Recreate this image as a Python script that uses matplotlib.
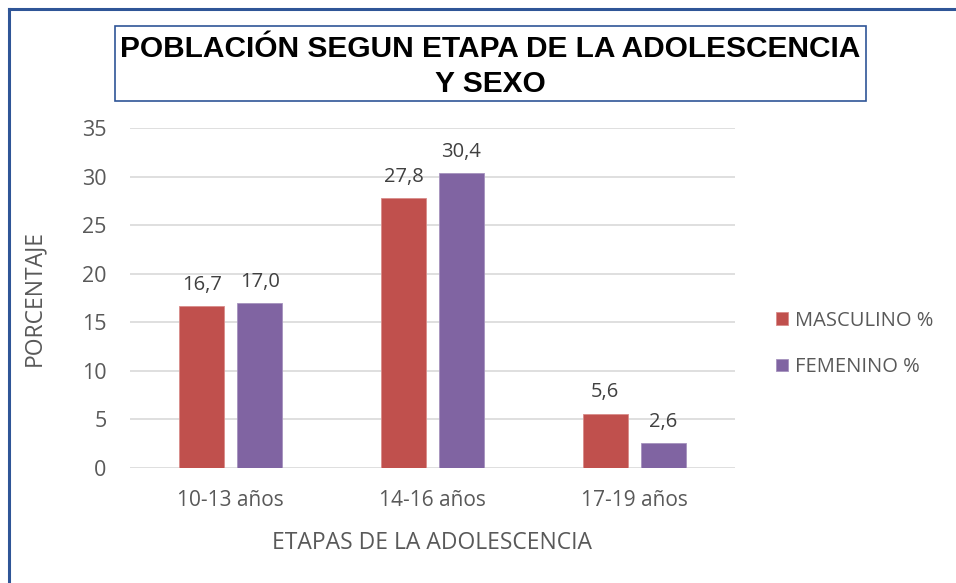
import matplotlib
matplotlib.use("Agg")
import matplotlib.pyplot as plt
from matplotlib.patches import Rectangle
from matplotlib.lines import Line2D

categories = ["10-13 años", "14-16 años", "17-19 años"]
masculino = [16.7, 27.8, 5.6]
femenino = [17.0, 30.4, 2.6]
series_names = ["MASCULINO %", "FEMENINO %"]
yticks = [0, 5, 10, 15, 20, 25, 30, 35]

RED = "#C0504D"
PURPLE = "#8064A2"
TXT = "#595959"
FONT = "Open Sans"

fig = plt.figure(figsize=(9.56, 5.83), dpi=100)
ax = fig.add_axes([130/956, 1-468/583, 605/956, 340/583])

w = 0.223
off = 0.1435
x = list(range(len(categories)))
b1 = ax.bar([i - off for i in x], masculino, w, color=RED, edgecolor="#D98C8A", linewidth=0.6, label=series_names[0], zorder=3)
b2 = ax.bar([i + off for i in x], femenino, w, color=PURPLE, edgecolor="#A592BE", linewidth=0.6, label=series_names[1], zorder=3)

for bars, vals in ((b1, masculino), (b2, femenino)):
    for r, v in zip(bars, vals):
        ax.annotate(f"{v:.1f}".replace(".", ","), (r.get_x() + r.get_width()/2, v),
                    xytext=(0, 8), textcoords="offset points", ha="center", va="bottom",
                    fontsize=14.5, color="#404040", family=FONT)

ax.set_xlim(-0.5, 2.5)
ax.set_ylim(0, 35)
ax.set_yticks(yticks)
ax.set_yticklabels([str(t) for t in yticks], fontsize=15.5, color=TXT, family=FONT)
ax.set_xticks(x)
ax.set_xticklabels(categories, fontsize=15, color=TXT, family=FONT)
ax.tick_params(axis="y", length=0, pad=17)
ax.tick_params(axis="x", length=0, pad=15.5)
ax.yaxis.grid(True, color="#D9D9D9", linewidth=1.2, zorder=0)
ax.set_axisbelow(True)
for s in ax.spines.values():
    s.set_visible(False)
ax.set_xlabel("ETAPAS DE LA ADOLESCENCIA", fontsize=16.5, color=TXT, family=FONT, labelpad=15)
ax.set_ylabel("PORCENTAJE", fontsize=16.5, color=TXT, family=FONT, labelpad=26)

leg = fig.legend(handles=[b1, b2], labels=series_names, loc="center left",
                 bbox_to_anchor=(776/956, 1-344/583), frameon=False, borderpad=0, borderaxespad=0,
                 prop={"family": FONT, "size": 14.5}, handlelength=0.6, handleheight=0.6,
                 handletextpad=0.35, labelspacing=1.3)
for t in leg.get_texts():
    t.set_color(TXT)

# title box
fig.patches.append(Rectangle((115/956, 1-101/583), 751/956, 75/583, transform=fig.transFigure,
                             facecolor="white", edgecolor="#2F5597", linewidth=1.2))
fig.text(490/956, 1-66.5/583, "POBLACIÓN SEGUN ETAPA DE LA ADOLESCENCIA\nY SEXO", ha="center", va="center",
         fontsize=21.5, fontweight="bold", family="Liberation Sans", color="black", linespacing=1.32)

# outer border (left and top)
fig.lines.append(Line2D([9/956, 9/956], [0, 1-9/583], transform=fig.transFigure, color="#2F5597", linewidth=2.2))
fig.lines.append(Line2D([9/956, 1], [1-9/583, 1-9/583], transform=fig.transFigure, color="#2F5597", linewidth=2.2))

fig.savefig("out.png", dpi=100)
